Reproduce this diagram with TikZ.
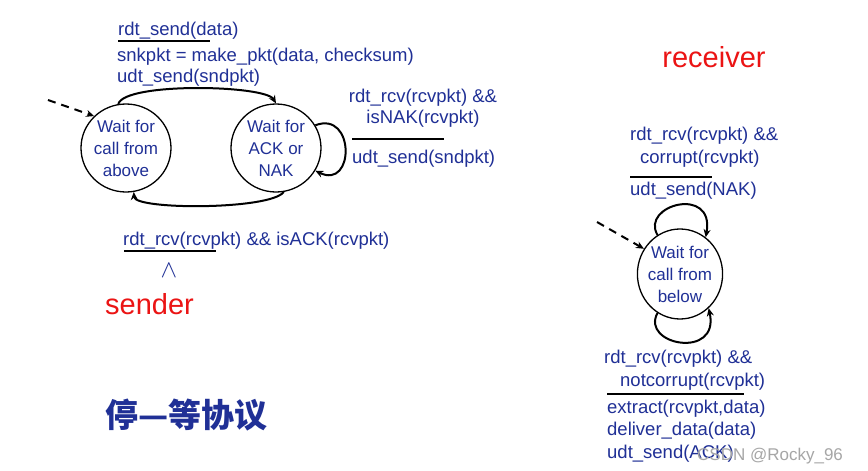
\documentclass[tikz,border=0pt]{standalone}
\usepackage{fontspec}
\setmainfont{Liberation Sans}
\newfontfamily\cjk{Noto Sans CJK SC}
\usetikzlibrary{arrows.meta,shapes.geometric}
\definecolor{tblue}{RGB}{32,48,150}
\definecolor{tred}{RGB}{235,20,20}
\begin{document}
\begin{tikzpicture}[x=1pt,y=-1pt,
  lab/.style={text=tblue,font=\fontsize{18.5}{21}\selectfont,inner sep=0pt},
  st/.style={draw,line width=1.3pt,ellipse,minimum width=90pt,minimum height=88pt,text=tblue,font=\fontsize{17}{22}\selectfont,align=center,inner sep=-2pt},
  arr/.style={line width=2pt,-{Stealth[length=8pt,width=7pt]}},
  bar/.style={line width=2.5pt},
  red/.style={text=tred,font=\fontsize{29}{32}\selectfont,inner sep=0pt}]
\useasboundingbox[fill=white] (0,0) rectangle (868,471);
% sender
\node[st] (A) at (126,148) {Wait for\\call from\\above};
\node[st] (B) at (276,148) {Wait for\\ACK or\\NAK};
\coordinate (d0) at (48,100);
\draw[arr,dash pattern=on 8pt off 6pt] (d0) -- (A.135);
\draw[arr] (A.100) .. controls (125,82) and (265,85) .. (B.90);
\draw[arr] (B.-80) .. controls (270,210) and (135,210) .. (A.-80);
\draw[arr] (B.30) .. controls (355,110) and (355,190) .. (B.-30);
\node[lab,anchor=base west] (t1) at (118,35) {rdt\_send(data)};
\draw[bar] (118,41) -- (210,41);
\node[lab,anchor=base west] (t2) at (117,61) {snkpkt = make\_pkt(data, checksum)};
\node[lab,anchor=base west] (t3) at (117,82) {udt\_send(sndpkt)};
\node[lab,anchor=base] (t4) at (423,102) {rdt\_rcv(rcvpkt) \&\&};
\node[lab,anchor=base] (t5) at (423,123) {isNAK(rcvpkt)};
\draw[bar] (352,139) -- (444,139);
\node[lab,anchor=base west] (t6) at (352,163) {udt\_send(sndpkt)};
\node[lab,anchor=base west] (t7) at (123,245) {rdt\_rcv(rcvpkt) \&\& isACK(rcvpkt)};
\draw[bar] (124,251) -- (216,251);
\node[lab,anchor=base,font=\fontsize{24}{24}\selectfont] (t8) at (169,277) {$\wedge$};
\node[red,anchor=base west] (snd) at (105,314) {sender};
\node[red,anchor=base] (rcv) at (714,67) {receiver};
% receiver
\node[st,minimum width=84pt,minimum height=90pt] (C) at (680,274) {Wait for\\call from\\below};
\coordinate (d1) at (597,222);
\draw[arr,dash pattern=on 8pt off 6pt] (d1) -- (C.145);
\draw[arr] (C.120) .. controls (640,205) and (715,185) .. (C.55);
\draw[arr] (C.-120) .. controls (640,345) and (720,360) .. (C.-50);
\node[lab,anchor=base west] (r1) at (630,140) {rdt\_rcv(rcvpkt) \&\&};
\node[lab,anchor=base west] (r2) at (640,163) {corrupt(rcvpkt)};
\draw[bar] (630,177) -- (712,177);
\node[lab,anchor=base west] (r3) at (630,195) {udt\_send(NAK)};
\node[lab,anchor=base west] (r4) at (604,363) {rdt\_rcv(rcvpkt) \&\&};
\node[lab,anchor=base west] (r5) at (620,386) {notcorrupt(rcvpkt)};
\draw[bar] (607,394) -- (744,394);
\node[lab,anchor=base west] (r6) at (607,413) {extract(rcvpkt,data)};
\node[lab,anchor=base west] (r7) at (607,435) {deliver\_data(data)};
\node[lab,anchor=base west] (r8) at (607,458) {udt\_send(ACK)};
\node[anchor=base west,inner sep=0pt,text=tblue,font=\cjk\bfseries\fontsize{33}{36}\selectfont] (cn) at (105,427) {停—等协议};
\node[anchor=base west,inner sep=0pt,text=gray!70,font=\fontsize{17}{20}\selectfont] (wm) at (697,460) {CSDN @Rocky\_96};
\end{tikzpicture}
\end{document}
